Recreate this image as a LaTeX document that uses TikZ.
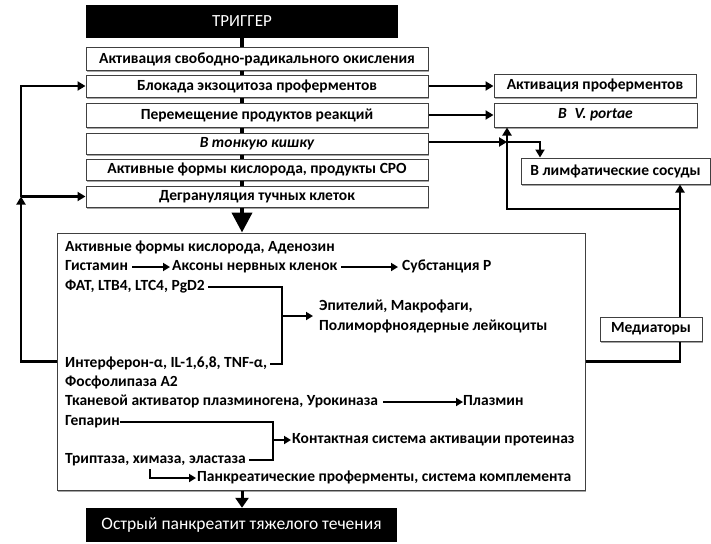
\documentclass[tikz,border=0pt]{standalone}
\usepackage{fontspec}
\setmainfont{Carlito}
\usetikzlibrary{arrows.meta,shadows}
\begin{document}
\begin{tikzpicture}[x=1pt,y=-1pt,
  box/.style={draw=black!75, line width=1pt, fill=white, inner sep=0pt,
    font=\bfseries\fontsize{15.5}{18}\selectfont,
    drop shadow={shadow xshift=1.2pt, shadow yshift=-1.5pt, fill=black!50, opacity=.7}},
  blackbox/.style={fill=black, text=white, inner sep=0pt, font=\fontsize{17.5}{20}\selectfont},
  txt/.style={anchor=west, inner sep=0pt, text height=10pt, text depth=2.5pt,
    font=\bfseries\fontsize{15.5}{20}\selectfont},
  bar/.style={line width=3.5pt},
  lk/.style={line width=2.8pt},
  lka/.style={line width=2.8pt, -{Triangle[length=8pt,width=9pt]}},
  ln/.style={line width=2.2pt},
  con/.style={line width=2.2pt, -{Triangle[length=7pt,width=8pt]}}
]
\useasboundingbox (0,0) rectangle (711,543);
\fill[white] (0,0) rectangle (711,543);

% top and bottom black boxes
\node[blackbox, minimum width=312pt, minimum height=33pt, font=\fontsize{17}{20}\selectfont] (trig) at (242,21.5) {ТРИГГЕР};
\node[blackbox, minimum width=311pt, minimum height=34pt] (bot) at (241.5,525) {Острый панкреатит тяжелого течения};

% left column
\node[box, minimum width=342pt, minimum height=22pt] (b1) at (257,59) {Активация свободно-радикального окисления};
\node[box, minimum width=342pt, minimum height=22pt] (b2) at (257,86) {Блокада экзоцитоза проферментов};
\node[box, minimum width=342pt, minimum height=24pt] (b3) at (257,115) {Перемещение продуктов реакций};
\node[box, minimum width=342pt, minimum height=21pt] (b4) at (257,143.5) {\itshape В тонкую кишку};
\node[box, minimum width=342pt, minimum height=21pt] (b5) at (257,169.5) {Активные формы кислорода, продукты СРО};
\node[box, minimum width=342pt, minimum height=21pt] (b6) at (257,196.5) {Дегрануляция тучных клеток};

% right column
\node[box, minimum width=202pt, minimum height=23pt] (r1) at (595,85.5) {Активация проферментов};
\node[box, minimum width=203pt, minimum height=24pt] (r2) at (595.5,115) {\itshape В\enspace V. portae};
\node[box, minimum width=189pt, minimum height=26pt] (lymph) at (615.5,171) {В лимфатические сосуды};
\node[box, minimum width=102pt, minimum height=24pt] (med) at (651,329) {Медиаторы};

% big box
\node[box, minimum width=528pt, minimum height=257pt] (big) at (321,361.5) {};

% inner texts
\node[txt] (t1) at (65,248) {Активные формы кислорода, Аденозин};
\node[txt] (t2a) at (65,267) {Гистамин};
\node[txt] (t2b) at (172,267) {Аксоны нервных кленок};
\node[txt] (t2c) at (402,267) {Субстанция Р};
\node[txt] (t3) at (65,287) {ФАТ, LTB4, LTC4, PgD2};
\node[txt, align=left, text height=, text depth=] (epi) at (319,316) {Эпителий, Макрофаги,\\Полиморфноядерные лейкоциты};
\node[txt] (t5) at (65,364) {Интерферон-α, IL-1,6,8, TNF-α,};
\node[txt] (t6) at (65,383) {Фосфолипаза А2};
\node[txt] (t7) at (65,402) {Тканевой активатор плазминогена, Урокиназа};
\node[txt] (t7b) at (463,402) {Плазмин};
\node[txt] (t8) at (65,422) {Гепарин};
\node[txt] (t9) at (292,440) {Контактная система активации протеиназ};
\node[txt] (t10) at (65,460) {Триптаза, химаза, эластаза};
\node[txt] (t11) at (197,478) {Панкреатические проферменты, система комплемента};

\coordinate (j1) at (282,316);
\coordinate (j2) at (273,440);
\coordinate (h) at (150,469);

% inner connectors
\draw[con] ([xshift=4pt]t2a.east) -- ([xshift=-2pt]t2b.west);
\draw[con] ([xshift=4pt]t2b.east) -- ([xshift=-4pt]t2c.west);
\draw[ln] ([xshift=3pt]t3.east) -| (j1) |- ([xshift=3pt]t5.east);
\draw[con] (j1) -- ([xshift=-6pt]epi.west);
\draw[con] ([xshift=5pt]t7.east) -- (t7b.west);
\draw[ln] (t8.east) -| (j2) |- ([xshift=3pt]t10.east);
\draw[con] (j2) -- ([xshift=-1pt]t9.west);
\draw[con] (h) |- ([xshift=-1pt]t11.west);

% column bars
\draw[bar] (trig.south) -- (trig.south |- b1.north);
\draw[bar] (trig.south |- b1.south) -- (trig.south |- b2.north);
\draw[bar] (trig.south |- b2.south) -- (trig.south |- b3.north);
\draw[bar] (trig.south |- b3.south) -- (trig.south |- b4.north);
\draw[bar] (trig.south |- b4.south) -- (trig.south |- b5.north);
\draw[bar] (trig.south |- b5.south) -- (trig.south |- b6.north);
\draw[line width=4pt, -{Triangle[length=20pt,width=20pt]}] (trig.south |- b6.south) -- (trig.south |- big.north);
\draw[line width=3pt, -{Triangle[length=10pt,width=13pt]}] (trig.south |- big.south) -- (trig.south |- bot.north);

% feedback left
\coordinate (L) at (21,196.5);
\draw[lka] (big.west) -| (L);
\draw[lka] (L) |- (b2.west);
\draw[lka] (L) -- (b6.west);

% right side
\coordinate (Q) at (507,209);
\coordinate (R) at (680,209);
\coordinate (S) at (540,158);
\draw[lka] (b2.east) -- (b2.east -| r1.west);
\draw[lka] (b3.east) -- (b3.east -| r2.west);
\draw[lka] ([yshift=1.5pt]b4.east) -- ([yshift=1.5pt]b4.east -| Q);
\draw[lka] ([yshift=1.5pt]b4.east -| Q) -| (S |- lymph.north);
\draw[lk] (big.east) -| (R |- med.south);
\draw[lka] (R |- med.north) -- (R |- lymph.south);
\draw[lka] (R) -| (Q |- r2.south);
\end{tikzpicture}
\end{document}
